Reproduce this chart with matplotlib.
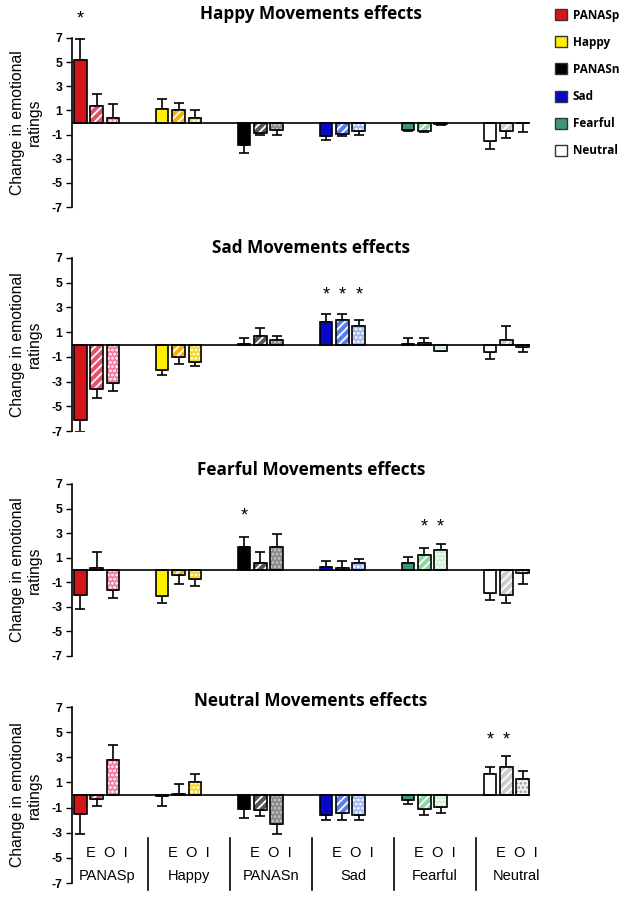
import matplotlib
matplotlib.use("Agg")
import matplotlib.pyplot as plt
import numpy as np
from matplotlib.patches import Patch
from matplotlib.transforms import blended_transform_factory

# ---------------- data ----------------
groups = ["PANASp", "Happy", "PANASn", "Sad", "Fearful", "Neutral"]
conditions = ["E", "O", "I"]
panel_titles = ["Happy Movements effects", "Sad Movements effects",
                "Fearful Movements effects", "Neutral Movements effects"]

# means: rows = groups, cols = E, O, I
happy_means = [[5.2, 1.4, 0.4], [1.1, 1.0, 0.4], [-1.9, -0.85, -0.65],
               [-1.1, -0.95, -0.7], [-0.65, -0.7, -0.15], [-1.55, -0.7, -0.05]]
happy_sems = [[1.75, 1.0, 1.1], [0.85, 0.65, 0.6], [0.6, 0.15, 0.4],
              [0.35, 0.15, 0.3], [0.05, 0.05, 0.05], [0.65, 0.6, 0.7]]

sad_means = [[-6.15, -3.6, -3.15], [-2.1, -1.0, -1.4], [0.05, 0.65, 0.35],
             [1.85, 1.95, 1.5], [0.05, 0.15, -0.5], [-0.6, 0.4, -0.2]]
sad_sems = [[0.9, 0.75, 0.65], [0.35, 0.55, 0.35], [0.5, 0.7, 0.3],
            [0.65, 0.55, 0.45], [0.47, 0.35, 0.05], [0.55, 1.1, 0.42]]

fearful_means = [[-2.0, 0.15, -1.6], [-2.1, -0.4, -0.75], [1.9, 0.6, 1.85],
                 [0.25, 0.15, 0.6], [0.6, 1.25, 1.6], [-1.9, -2.0, -0.27]]
fearful_sems = [[1.2, 1.3, 0.7], [0.55, 0.7, 0.55], [0.75, 0.85, 1.05],
                [0.45, 0.55, 0.3], [0.45, 0.55, 0.5], [0.55, 0.65, 0.9]]

neutral_means = [[-1.55, -0.3, 2.75], [-0.05, 0.1, 1.05], [-1.1, -1.2, -2.3],
                 [-1.6, -1.45, -1.6], [-0.42, -1.15, -0.95], [1.65, 2.2, 1.25]]
neutral_sems = [[1.55, 0.6, 1.25], [0.8, 0.8, 0.6], [0.75, 0.5, 0.8],
                [0.42, 0.5, 0.42], [0.3, 0.45, 0.47], [0.6, 0.88, 0.62]]

# significance stars: (group index, condition index, y)
happy_stars = [(0, 0, 8.6)]
sad_stars = [(3, 0, 4.0), (3, 1, 4.0), (3, 2, 4.0)]
fearful_stars = [(2, 0, 4.4), (4, 1, 3.5), (4, 2, 3.5)]
neutral_stars = [(5, 0, 4.35), (5, 1, 4.35)]

yticks = [-7, -5, -3, -1, 1, 3, 5, 7]

# ---------------- style ----------------
E_colors = ["#d4161b", "#fff000", "#000000", "#0808c8", "#3d9870", "#ffffff"]
O_colors = ["#e5506a", "#f5b400", "#555555", "#5a7ef0", "#8cd8a4", "#cdcdcd"]
I_colors = ["#f280a2", "#f7d820", "#8a8a8a", "#a0b8f2", "#c8f2d2", "#f4f4f4"]
I_dots = ["#ffffff", "#ffffff", "#c8c8c8", "#ffffff", "#ffffff", "#999999"]

plt.rcParams["hatch.linewidth"] = 1.3
plt.rcParams["font.family"] = ["Liberation Sans", "DejaVu Sans"]

W, H = 625, 898
fig = plt.figure(figsize=(W / 100, H / 100), dpi=100)

panel_px = [(38, 207), (258, 431), (484, 656), (707, 883)]
left_px, right_px = 72, 530
title_y_px = [14, 248, 470, 701]

all_means = [happy_means, sad_means, fearful_means, neutral_means]
all_sems = [happy_sems, sad_sems, fearful_sems, neutral_sems]
all_stars = [happy_stars, sad_stars, fearful_stars, neutral_stars]

offsets = [-0.2, 0.0, 0.2]
bw = 0.155

axes = []
for p in range(4):
    top, bot = panel_px[p]
    ax = fig.add_axes([left_px / W, 1 - bot / H, (right_px - left_px) / W, (bot - top) / H])
    axes.append(ax)
    means = np.array(all_means[p])
    sems = np.array(all_sems[p])
    xg = np.arange(len(groups))
    for c in range(3):
        x = xg + offsets[c]
        vals = means[:, c]
        err = sems[:, c]
        lower = np.where(vals < 0, err, 0)
        upper = np.where(vals >= 0, err, 0)
        ax.errorbar(x, vals, yerr=[lower, upper], fmt="none", ecolor="black",
                    elinewidth=1.2, capsize=3.8, capthick=1.2, zorder=2)
        if c == 0:
            ax.bar(x, vals, bw, color=E_colors, edgecolor="black", linewidth=1.2, zorder=3)
        else:
            fc = O_colors if c == 1 else I_colors
            hc = ["#ffffff"] * 6 if c == 1 else I_dots
            hatch = "////" if c == 1 else "...."
            for gi in range(len(groups)):
                ax.bar(x[gi], vals[gi], bw, color=fc[gi], edgecolor=hc[gi], linewidth=0,
                       hatch=hatch, zorder=3)
            ax.bar(x, vals, bw, fill=False, edgecolor="black", linewidth=1.2, zorder=4)
    ax.axhline(0, color="black", lw=1.2, zorder=5)
    for gi, ci, ys in all_stars[p]:
        ax.text(gi + offsets[ci], ys, "*", ha="center", va="center", fontsize=13,
                clip_on=False)
    ax.set_ylim(-7, 7)
    ax.set_xlim(-0.3, 5.29)
    ax.set_yticks(yticks)
    ax.set_yticklabels([str(t) for t in yticks], fontsize=8.8, fontweight="bold")
    ax.tick_params(axis="y", length=4, width=1, pad=3)
    ax.set_xticks([])
    for s in ["top", "right", "bottom"]:
        ax.spines[s].set_visible(False)
    ax.spines["left"].set_linewidth(1.2)
    ax.set_ylabel("Change in emotional\nratings", fontsize=11.3, linespacing=1.15)
    ax.yaxis.set_label_coords(-0.065, 0.5)
    fig.text(311 / W, 1 - title_y_px[p] / H, panel_titles[p], ha="center", va="center",
             fontsize=12.3, fontweight="bold", family="Open Sans")

# bottom category labels
ax = axes[3]
tr = blended_transform_factory(ax.transData, ax.transAxes)
for gi, g in enumerate(groups):
    ax.text(gi + 0.13, 0.17, "E  O  I", transform=tr, ha="center", va="center",
            fontsize=10.5, clip_on=False)
    ax.text(gi + 0.13, 0.04, g, transform=tr, ha="center", va="center",
            fontsize=10.5, clip_on=False)
    if gi < len(groups) - 1:
        ax.plot([gi + 0.63, gi + 0.63], [0.256, -0.04], transform=tr, color="black",
                lw=1.2, clip_on=False)

# legend
handles = [Patch(facecolor=E_colors[i], edgecolor="#333333", linewidth=1.0, label=groups[i])
           for i in range(len(groups))]
leg = fig.legend(handles=handles, loc="upper left", bbox_to_anchor=(544 / W, 1 + 2 / H),
                 frameon=False, handlelength=1.05, handleheight=1.05, handletextpad=0.5,
                 labelspacing=1.2, prop={"family": "Open Sans", "weight": "bold", "size": 8.5})

fig.savefig("out.png", dpi=100)
